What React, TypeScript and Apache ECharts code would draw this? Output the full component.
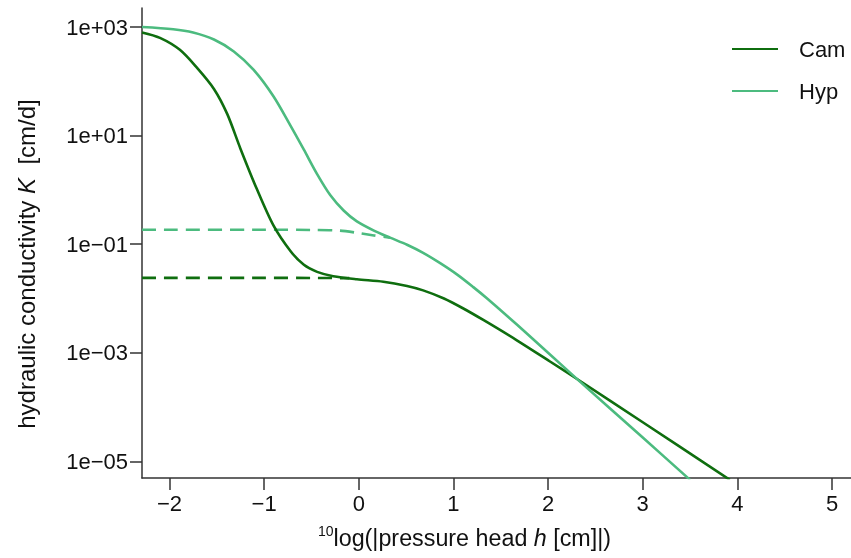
import React, { useEffect, useRef } from 'react';
import * as echarts from 'echarts';

// log10 of |pressure head h [cm]|
const xCam = [-2.29, -2.1, -1.89, -1.71, -1.53, -1.39, -1.25, -1.08, -0.9, -0.72, -0.58, -0.44, -0.27, -0.02, 0.26, 0.51, 0.68, 0.9, 1.1, 1.32, 1.67, 2.02, 2.33, 3.0, 3.92];
// hydraulic conductivity K [cm/d]
const kCam = [794, 631, 380, 178, 72.4, 25.1, 5.75, 1.07, 0.219, 0.0741, 0.0417, 0.0309, 0.0257, 0.0226, 0.0204, 0.017, 0.0141, 0.01, 0.00661, 0.00398, 0.0017, 0.000692, 0.000309, 0.0000525, 0.00000457];

const xHyp = [-2.29, -1.96, -1.75, -1.53, -1.32, -1.11, -0.9, -0.72, -0.58, -0.44, -0.3, -0.16, -0.02, 0.16, 0.33, 0.51, 0.68, 0.86, 1.04, 1.21, 1.35, 1.67, 2.02, 2.31, 3.0, 3.5];
const kHyp = [1000, 912, 794, 589, 355, 162, 52.5, 15.1, 5.5, 1.95, 0.794, 0.417, 0.263, 0.178, 0.132, 0.0977, 0.0692, 0.0447, 0.0275, 0.0162, 0.0102, 0.00331, 0.000933, 0.000324, 0.0000275, 0.00000457];

const xCamDash = [-2.29, -1.0, -0.5, -0.1];
const kCamDash = [0.024, 0.024, 0.0239, 0.0237];

const xHypDash = [-2.29, -1.0, -0.5, -0.2, 0.0, 0.16, 0.33];
const kHypDash = [0.185, 0.185, 0.183, 0.178, 0.16, 0.145, 0.132];

const xTicks = [-2, -1, 0, 1, 2, 3, 4, 5];
const yTicks = [1e-5, 1e-3, 1e-1, 1e1, 1e3];

const CAM = '#0f6e0f';
const HYP = '#4cbb7f';
const FONT = '"Liberation Sans", Arial, sans-serif';

const pair = (xs: number[], ys: number[]) => xs.map((x, i) => [x, ys[i]]);

const fmtY = (v: number) => {
  const e = Math.round(Math.log10(v));
  const s = String(Math.abs(e)).padStart(2, '0');
  return '1e' + (e < 0 ? '\u2212' : '+') + s;
};

export default function App() {
  const ref = useRef<HTMLDivElement>(null);
  useEffect(() => {
    if (!ref.current) return;
    const chart = echarts.init(ref.current, null, { renderer: 'svg' });
    const tickStyle = { color: '#333', width: 1.5 };
    chart.setOption({
      animation: false,
      textStyle: { fontFamily: FONT },
      grid: { left: 142, right: 0, top: 8, bottom: 80 },
      legend: {
        orient: 'vertical',
        left: 731,
        top: 38,
        padding: 0,
        itemWidth: 46,
        itemHeight: 20,
        itemGap: 20,
        itemStyle: { opacity: 0 },
        data: ['Cam', 'Hyp'],
        textStyle: { fontSize: 22, color: '#111', fontFamily: FONT, padding: [0, 0, 0, 16] },
      },
      xAxis: {
        type: 'value',
        min: -2.29,
        max: 5.2,
        axisLine: { show: true, onZero: false, lineStyle: tickStyle },
        splitLine: { show: false },
        axisTick: { show: true, length: 12, customValues: xTicks, lineStyle: tickStyle },
        axisLabel: {
          customValues: xTicks,
          margin: 14,
          fontSize: 22,
          color: '#111',
          fontFamily: FONT,
          formatter: (v: number) => (v < 0 ? '\u2212' + Math.abs(v) : String(v)),
        },
        name: '{sup|10}{n|log(|pressure head }{i|h}{n| [cm]|)}',
        nameLocation: 'middle',
        nameGap: 46,
        nameTextStyle: {
          padding: [0, 64, 0, 0],
          rich: {
            sup: { fontSize: 14, color: '#111', fontFamily: FONT, padding: [0, 0, 13, 0] },
            n: { fontSize: 23.3, color: '#111', fontFamily: FONT },
            i: { fontSize: 23.3, color: '#111', fontFamily: FONT, fontStyle: 'italic' },
          },
        },
      },
      yAxis: {
        type: 'log',
        logBase: 10,
        min: Math.pow(10, -5.306),
        max: Math.pow(10, 3.35),
        axisLine: { show: true, onZero: false, lineStyle: tickStyle },
        splitLine: { show: false },
        axisTick: { show: true, length: 12, customValues: yTicks, lineStyle: tickStyle },
        axisLabel: {
          customValues: yTicks,
          margin: 14,
          fontSize: 22,
          color: '#111',
          fontFamily: FONT,
          formatter: fmtY,
        },
        name: '{n|hydraulic conductivity }{i|K}{n|  [cm/d]}',
        nameLocation: 'middle',
        nameGap: 104,
        nameTextStyle: {
          padding: [0, 42, 0, 0],
          rich: {
            n: { fontSize: 24, color: '#111', fontFamily: FONT },
            i: { fontSize: 24, color: '#111', fontFamily: FONT, fontStyle: 'italic' },
          },
        },
      },
      series: [
        {
          name: 'Cam',
          type: 'line',
          data: pair(xCam, kCam),
          smooth: 0.3,
          symbol: 'none',
          lineStyle: { color: CAM, width: 2.6 },
          itemStyle: { color: CAM },
          z: 3,
        },
        {
          name: 'Hyp',
          type: 'line',
          data: pair(xHyp, kHyp),
          smooth: 0.3,
          symbol: 'none',
          lineStyle: { color: HYP, width: 2.6 },
          itemStyle: { color: HYP },
          z: 3,
        },
        {
          name: 'Cam dashed',
          type: 'line',
          data: pair(xCamDash, kCamDash),
          smooth: 0.3,
          symbol: 'none',
          lineStyle: { color: CAM, width: 2.6, type: [14, 8] },
          z: 2,
        },
        {
          name: 'Hyp dashed',
          type: 'line',
          data: pair(xHypDash, kHypDash),
          smooth: 0.3,
          symbol: 'none',
          lineStyle: { color: HYP, width: 2.6, type: [14, 8] },
          z: 2,
        },
      ],
    });
    return () => chart.dispose();
  }, []);
  return <div ref={ref} style={{ position: 'fixed', left: 0, top: 0, width: 851, height: 558 }} />;
}
